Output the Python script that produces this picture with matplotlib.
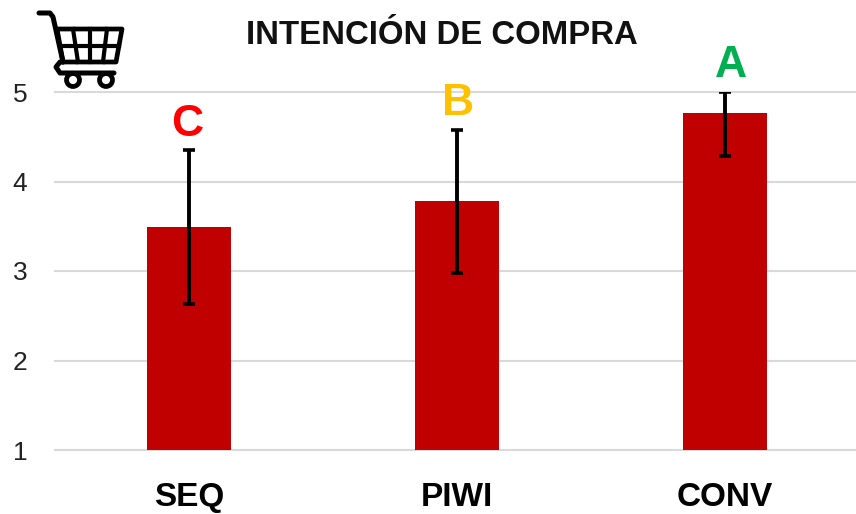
import matplotlib
matplotlib.use("Agg")
import matplotlib.pyplot as plt
from matplotlib.patches import Circle, Polygon

categories = ["SEQ", "PIWI", "CONV"]
means = [3.49, 3.78, 4.77]
err_low = [0.86, 0.80, 0.48]
err_high = [0.86, 0.80, 0.23]
letters = ["C", "B", "A"]
letter_colors = ["#FF0000", "#FFC000", "#00B050"]
yticks = [1, 2, 3, 4, 5]

plt.rcParams["font.family"] = ["Liberation Sans", "DejaVu Sans"]

fig = plt.figure(figsize=(8.56, 5.14), dpi=100)
# axes from pixel box: x 55-856, y 92 (=5) to 450 (=1)
ax = fig.add_axes([55 / 856, 1 - 450 / 514, (856 - 55) / 856, (450 - 92) / 514])

xs = [0, 1, 2]
ax.bar(xs, means, bottom=0, width=84 / 268, color="#C00000", zorder=2)
ax.errorbar(xs, means, yerr=[err_low, err_high], fmt="none", ecolor="black",
            elinewidth=2.8, capsize=4.5, capthick=2.6, zorder=3)

ax.set_xlim(-134 / 268, 2 + (856 - 725) / 268)
ax.set_ylim(1, 5)
ax.set_yticks(yticks)
ax.set_xticks(xs)
ax.set_xticklabels(categories, fontsize=24, fontweight="bold", color="black")
ax.tick_params(axis="y", length=0, labelsize=19, pad=20, labelcolor="#222222")
ax.tick_params(axis="x", length=0, pad=23)
ax.grid(axis="y", color="#D9D9D9", linewidth=1.5, zorder=0, clip_on=False)
ax.set_axisbelow(True)
for s in ax.spines.values():
    s.set_visible(False)

# the letters are not quite centred over the bars in the original
for x, m, h, l, c, dx in zip(xs, means, err_high, letters, letter_colors, [-1, 1, 4.5]):
    ax.annotate(l, (x, m + h), xytext=(dx, 4), textcoords="offset points",
                ha="center", va="bottom", fontsize=32, fontweight="bold",
                color=c, annotation_clip=False)

fig.text(442 / 856, 1 - 36 / 514, "INTENCIÓN DE COMPRA", ha="center", va="center",
         fontsize=23.7, fontweight="bold", color="#111111")

# shopping cart icon, in pixel coordinates
icon = fig.add_axes([0, 0, 1, 1], facecolor="none")
icon.set_xlim(0, 856)
icon.set_ylim(514, 0)
icon.axis("off")
# handle, then the left side down to the lower rail
icon.plot([39, 50, 53, 63], [13, 13, 17, 62],
          color="black", lw=3.6, solid_capstyle="round", solid_joinstyle="round")
icon.plot([63, 60, 56, 60, 114], [62, 62, 67, 73, 73],
          color="black", lw=3.6, solid_capstyle="round", solid_joinstyle="round")
icon.add_patch(Polygon([[57, 29], [122, 29], [116, 62], [63, 62]], closed=True,
                       fill=False, edgecolor="black", lw=3.4, joinstyle="round"))
for top, bottom in [(73, 78), (90, 90), (107, 103)]:
    icon.plot([top, bottom], [29, 62], color="black", lw=3)
icon.plot([60, 119], [46, 46], color="black", lw=3)
for cx in [73, 106]:
    icon.add_patch(Circle((cx, 80), 6.5, facecolor="white", edgecolor="black", lw=3.4))

fig.savefig("out.png", dpi=100)
